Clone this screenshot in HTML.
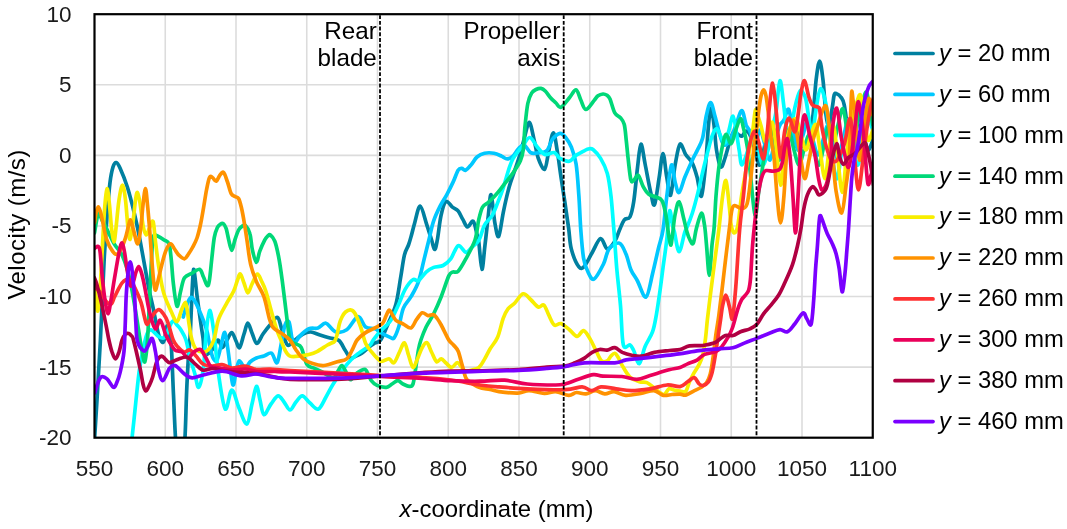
<!DOCTYPE html>
<html lang="en"><head><meta charset="utf-8"><title>Velocity vs x-coordinate</title>
<style>
html,body{margin:0;padding:0;background:#fff;}
body{width:1067px;height:529px;overflow:hidden;}
svg{display:block;}
text{font-family:"Liberation Sans",sans-serif;fill:#000;}
.tk{font-size:22.5px;fill:#1a1a1a;}
.ti{font-size:23.9px;}
.lg{font-size:23.75px;}
.an{font-size:24.2px;}
.c{fill:none;stroke-width:3.7;stroke-linecap:round;stroke-linejoin:round;}
</style></head><body>
<svg width="1067" height="529" viewBox="0 0 1067 529">
<rect x="0" y="0" width="1067" height="529" fill="#fff"/>
<defs><clipPath id="pa"><rect x="94.50" y="14.20" width="778.25" height="423.50"/></clipPath></defs>
<path d="M165.25 14.20V437.70M236.00 14.20V437.70M306.75 14.20V437.70M377.50 14.20V437.70M448.25 14.20V437.70M519.00 14.20V437.70M589.75 14.20V437.70M660.50 14.20V437.70M731.25 14.20V437.70M802.00 14.20V437.70M94.50 84.78H872.75M94.50 155.37H872.75M94.50 225.95H872.75M94.50 296.53H872.75M94.50 367.12H872.75" stroke="#dcdcdc" stroke-width="1.6" fill="none"/>
<g clip-path="url(#pa)">
<path class="c" stroke="#0080a0" d="M94.5 440.0C94.9 433.3 96.0 416.7 97.0 400.0C98.0 383.3 99.2 363.5 100.4 340.0C101.6 316.5 103.0 280.6 104.2 258.9C105.4 237.2 106.5 222.7 107.5 210.0C108.5 197.3 109.1 189.7 110.0 182.5C110.9 175.3 112.0 170.3 113.0 167.0C114.0 163.7 115.0 162.3 116.2 162.5C117.4 162.7 118.1 163.8 120.0 168.0C121.9 172.2 125.2 180.2 127.5 187.5C129.8 194.8 131.9 203.2 134.0 212.0C136.1 220.8 137.6 227.4 140.0 240.0C142.4 252.6 146.5 276.5 148.6 287.3C150.7 298.1 151.2 298.9 152.5 305.0C153.8 311.1 155.2 318.6 156.2 323.6C157.2 328.6 157.7 331.8 158.7 334.9C159.7 338.0 161.4 341.8 162.4 342.3C163.4 342.8 164.1 340.7 164.8 338.0C165.5 335.3 166.0 326.3 166.8 326.0C167.6 325.7 168.8 332.7 169.5 336.0C170.2 339.3 170.6 336.2 171.3 346.0C172.0 355.8 172.7 378.5 173.5 395.0C174.3 411.5 174.9 432.5 176.0 445.0C177.1 457.5 178.6 470.0 180.0 470.0C181.4 470.0 183.4 457.5 184.5 445.0C185.6 432.5 185.9 409.4 186.5 395.0C187.1 380.6 187.7 368.9 188.3 358.9C188.9 348.9 189.7 343.1 190.2 335.0C190.7 326.9 190.9 318.3 191.3 310.0C191.7 301.7 192.0 291.8 192.4 285.0C192.8 278.2 193.1 270.1 193.6 269.3C194.1 268.5 194.7 275.1 195.3 280.0C195.9 284.9 196.5 291.9 197.4 298.7C198.3 305.5 199.6 314.4 200.5 321.0C201.4 327.6 202.2 332.5 203.0 338.0C203.8 343.5 203.5 352.0 205.0 354.0C206.5 356.0 209.8 352.3 212.0 350.0C214.2 347.7 216.3 340.4 218.0 340.0C219.7 339.6 220.8 347.6 222.3 347.6C223.8 347.6 225.4 342.5 227.0 340.0C228.6 337.5 230.3 332.4 231.8 332.6C233.3 332.8 234.7 338.5 236.0 341.0C237.3 343.5 238.3 348.8 239.6 347.6C240.9 346.4 242.6 338.1 244.0 334.0C245.4 329.9 246.5 323.4 247.8 323.2C249.1 323.0 250.5 329.6 252.0 333.0C253.5 336.4 255.0 343.3 256.8 343.5C258.6 343.7 260.8 337.1 263.0 334.0C265.2 330.9 267.6 327.8 270.0 325.0C272.4 322.2 275.5 316.7 277.5 317.5C279.5 318.3 280.3 325.4 282.0 330.0C283.7 334.6 285.3 343.3 287.5 345.0C289.7 346.7 292.4 341.8 295.0 340.0C297.6 338.2 300.4 335.3 303.0 334.0C305.6 332.7 308.0 331.8 310.8 332.0C313.6 332.2 316.8 334.0 320.0 335.0C323.2 336.0 326.8 337.1 330.0 338.0C333.2 338.9 336.5 338.5 339.0 340.5C341.5 342.5 343.1 347.1 345.0 350.0C346.9 352.9 348.7 357.0 350.5 358.0C352.3 359.0 354.1 356.8 356.0 356.0C357.9 355.2 359.6 354.7 361.8 353.2C364.0 351.7 366.8 348.7 369.0 347.0C371.2 345.3 373.1 344.2 375.0 343.0C376.9 341.8 378.5 343.3 380.7 340.0C382.9 336.7 385.8 329.1 388.3 323.2C390.8 317.2 393.8 311.9 395.9 304.3C397.9 296.7 399.2 286.0 400.6 277.8C402.0 269.6 403.1 260.6 404.4 255.1C405.7 249.6 407.3 248.3 408.5 245.0C409.7 241.7 410.5 238.6 411.5 235.0C412.5 231.4 413.2 228.0 414.6 223.2C416.1 218.4 418.1 205.9 420.2 206.2C422.2 206.5 425.0 219.5 426.9 225.1C428.8 230.7 430.3 235.9 431.6 240.0C432.9 244.1 433.7 249.5 434.6 249.5C435.6 249.5 436.2 245.7 437.3 240.0C438.4 234.3 439.6 222.0 441.0 215.6C442.4 209.2 443.9 202.8 445.8 201.4C447.7 200.0 450.3 205.5 452.4 207.1C454.4 208.7 456.4 208.8 458.1 210.9C459.8 213.0 461.2 216.7 462.8 219.4C464.4 222.1 465.8 226.7 467.5 227.0C469.2 227.3 471.6 220.1 473.2 221.3C474.8 222.6 476.1 231.1 477.0 234.5C477.9 237.9 478.0 236.2 478.8 242.0C479.6 247.8 480.9 268.8 481.9 269.3C482.9 269.8 483.9 253.9 485.0 245.0C486.1 236.1 487.3 224.0 488.3 215.6C489.3 207.2 490.0 193.5 491.1 194.8C492.2 196.1 493.6 216.3 494.9 223.2C496.2 230.1 497.3 238.3 498.7 236.4C500.1 234.5 501.7 220.0 503.4 211.8C505.1 203.6 507.2 194.2 509.1 187.3C511.0 180.4 512.9 175.9 514.8 170.2C516.7 164.5 518.9 158.3 520.4 153.2C521.9 148.1 522.5 144.5 524.0 139.4C525.5 134.3 527.6 122.1 529.3 122.4C531.0 122.7 532.9 135.4 534.4 141.3C535.9 147.2 536.5 153.3 538.2 158.0C539.9 162.7 542.9 170.3 544.6 169.3C546.3 168.3 547.2 158.1 548.6 152.0C550.0 145.9 551.8 132.9 553.3 132.8C554.8 132.7 556.0 143.8 557.3 151.3C558.6 158.8 559.8 169.3 561.1 177.8C562.4 186.3 563.6 194.0 564.9 202.4C566.1 210.8 567.5 220.2 568.6 228.0C569.7 235.8 569.6 242.4 571.3 248.9C573.0 255.4 576.7 264.1 578.9 266.9C581.1 269.7 582.4 268.3 584.6 265.9C586.8 263.5 589.4 257.3 592.1 252.7C594.8 248.1 598.1 239.1 600.6 238.5C603.1 237.9 604.9 248.4 607.3 248.9C609.7 249.4 612.8 244.5 614.8 241.3C616.8 238.2 617.9 233.6 619.5 230.0C621.1 226.4 622.6 222.0 624.3 219.8C626.0 217.6 628.3 220.0 629.9 217.0C631.5 214.0 632.4 210.0 633.7 201.8C635.0 193.6 636.3 177.4 637.5 167.8C638.7 158.2 639.6 144.8 640.9 144.2C642.2 143.6 643.5 156.0 645.1 164.0C646.7 172.0 649.1 185.6 650.7 192.4C652.3 199.2 653.1 207.2 654.5 204.7C655.9 202.2 657.8 185.8 659.2 177.3C660.6 168.8 661.7 153.6 663.0 153.6C664.3 153.6 665.5 170.4 666.8 177.3C668.1 184.2 669.2 197.4 670.6 195.2C672.0 193.0 673.7 172.5 675.3 164.0C676.9 155.5 678.3 145.8 680.0 144.2C681.7 142.6 683.7 151.4 685.7 154.6C687.8 157.8 690.4 159.3 692.3 163.1C694.2 166.9 695.6 171.8 697.1 177.3C698.6 182.8 700.0 198.2 701.4 196.2C702.8 194.1 704.4 176.9 705.6 165.0C706.8 153.1 707.6 134.5 708.5 125.0C709.4 115.5 710.3 108.1 711.2 108.1C712.1 108.1 713.1 118.0 714.0 125.0C714.9 132.0 715.4 143.0 716.5 150.0C717.6 157.0 719.3 165.6 720.7 166.9C722.1 168.2 723.5 162.3 725.0 158.0C726.5 153.7 728.4 145.4 729.9 141.1C731.4 136.8 732.2 133.4 733.7 132.4C735.2 131.4 737.3 134.3 738.7 134.9C740.1 135.5 740.8 136.6 742.0 136.0C743.2 135.4 744.8 131.4 746.1 131.2C747.4 131.0 748.5 131.9 750.0 135.0C751.5 138.1 753.3 145.0 755.0 150.0C756.7 155.0 758.2 166.7 760.0 165.0C761.8 163.3 764.0 146.7 766.0 140.0C768.0 133.3 770.0 123.3 772.0 125.0C774.0 126.7 776.0 144.2 778.0 150.0C780.0 155.8 782.0 162.5 784.0 160.0C786.0 157.5 788.0 141.7 790.0 135.0C792.0 128.3 794.2 119.2 796.0 120.0C797.8 120.8 799.5 135.5 801.0 140.0C802.5 144.5 803.7 147.8 805.0 147.0C806.3 146.2 807.7 140.3 809.0 135.0C810.3 129.7 811.8 124.1 813.0 114.9C814.2 105.7 815.0 89.0 816.1 80.0C817.2 71.0 818.5 61.2 819.6 61.2C820.8 61.2 821.9 71.0 823.0 80.0C824.1 89.0 825.0 107.5 826.0 115.0C827.0 122.5 828.0 126.3 829.0 125.0C830.0 123.7 831.4 112.4 832.3 107.4C833.2 102.4 833.5 97.2 834.2 94.9C834.9 92.6 835.6 93.3 836.7 93.7C837.9 94.1 839.9 95.5 841.1 97.4C842.4 99.3 843.1 99.5 844.2 104.9C845.4 110.3 846.7 122.5 848.0 130.0C849.3 137.5 850.7 150.0 852.0 150.0C853.3 150.0 854.7 135.8 856.0 130.0C857.3 124.2 858.7 114.2 860.0 115.0C861.3 115.8 862.7 129.2 864.0 135.0C865.3 140.8 866.5 149.2 868.0 150.0C869.5 150.8 872.0 141.7 872.8 140.0"/>
<path class="c" stroke="#00c8ff" d="M183.3 317.0C183.5 316.3 183.7 315.0 184.3 313.0C184.9 311.0 185.9 307.3 186.8 305.0C187.7 302.7 188.7 300.2 189.5 299.0C190.3 297.8 190.8 297.1 191.7 297.5C192.6 297.9 193.8 299.6 195.0 301.5C196.2 303.4 197.2 305.4 198.6 308.7C200.0 311.9 202.1 317.1 203.6 321.0C205.1 324.9 206.3 328.2 207.3 332.4C208.3 336.6 208.9 341.7 209.8 346.0C210.8 350.3 211.8 355.7 213.0 358.0C214.2 360.3 215.7 362.0 217.0 360.0C218.3 358.0 219.7 350.6 221.0 346.0C222.3 341.4 223.6 331.7 224.8 332.4C226.0 333.1 226.7 341.3 228.0 350.0C229.3 358.7 231.4 380.7 232.7 384.4C234.0 388.1 234.9 375.9 236.0 372.0C237.1 368.1 237.8 361.4 239.3 360.8C240.8 360.2 243.2 368.2 245.0 368.4C246.8 368.6 248.1 363.7 250.0 362.0C251.9 360.3 254.1 359.0 256.4 358.0C258.7 357.0 261.5 356.8 264.0 356.0C266.5 355.2 269.3 352.1 271.5 353.2C273.7 354.3 275.5 364.1 277.1 362.7C278.7 361.3 279.7 351.3 281.0 345.0C282.3 338.7 283.7 328.8 285.0 325.0C286.3 321.2 287.8 319.8 289.0 322.0C290.2 324.2 291.0 334.5 292.0 338.0C293.0 341.5 293.8 343.3 295.0 343.0C296.2 342.7 297.2 338.8 299.5 336.4C301.8 334.0 305.8 330.2 308.9 328.8C312.0 327.4 315.2 328.9 318.0 328.0C320.8 327.1 323.0 322.6 325.9 323.2C328.8 323.8 331.9 330.6 335.4 331.7C338.9 332.8 342.9 332.3 346.7 329.8C350.5 327.3 354.9 317.1 358.0 316.6C361.1 316.1 362.8 325.0 365.6 327.0C368.4 329.0 372.5 327.9 375.0 328.8C377.5 329.7 378.2 331.2 380.7 332.6C383.2 334.0 388.0 336.5 390.2 337.4C392.4 338.3 392.6 339.7 394.0 338.0C395.4 336.3 397.1 332.0 398.7 327.0C400.3 322.0 401.3 313.2 403.4 308.1C405.4 303.1 408.5 301.1 411.0 296.7C413.5 292.3 416.3 287.9 418.5 281.6C420.7 275.3 422.5 265.8 424.2 258.9C425.9 252.0 427.3 246.3 428.9 240.0C430.4 233.7 431.6 226.9 433.5 221.3C435.4 215.7 437.9 210.6 440.1 206.2C442.3 201.8 444.5 198.9 446.7 194.8C448.9 190.7 451.4 185.7 453.3 181.6C455.2 177.5 456.7 172.4 458.1 170.2C459.5 168.0 460.6 168.4 461.8 168.4C463.1 168.4 464.0 170.8 465.6 170.2C467.2 169.6 469.4 166.8 471.3 164.6C473.2 162.4 474.8 158.9 477.0 157.0C479.2 155.1 481.7 153.8 484.5 153.2C487.3 152.6 491.2 152.7 494.0 153.2C496.8 153.7 499.3 155.1 501.5 156.1C503.7 157.1 505.3 158.9 507.2 158.9C509.1 158.9 511.0 157.8 512.9 156.1C514.8 154.4 516.5 150.6 518.4 148.8C520.2 147.0 522.0 144.5 524.0 145.1C526.0 145.7 528.4 151.3 530.6 152.6C532.8 153.9 534.3 153.3 537.0 153.0C539.7 152.7 544.1 153.0 546.7 150.7C549.3 148.4 550.2 142.3 552.4 139.4C554.6 136.5 557.8 133.6 560.0 133.3C562.2 133.0 563.7 135.2 565.6 137.5C567.5 139.8 569.5 142.6 571.3 147.0C573.0 151.4 574.8 155.8 576.1 164.0C577.4 172.2 578.1 185.2 578.9 196.2C579.7 207.2 580.0 219.6 580.8 230.0C581.6 240.4 582.4 251.4 583.6 258.4C584.8 265.4 586.3 268.6 588.0 272.0C589.7 275.4 591.4 280.4 594.0 279.1C596.6 277.8 601.0 269.0 603.5 264.0C606.0 259.0 606.4 252.4 609.1 248.9C611.8 245.4 616.6 242.2 619.5 243.2C622.4 244.1 624.3 250.2 626.2 254.6C628.1 259.0 629.0 265.3 630.9 269.7C632.8 274.1 635.0 276.4 637.5 281.0C640.0 285.6 643.5 298.4 646.0 297.1C648.5 295.9 650.6 281.5 652.6 273.5C654.6 265.5 656.6 256.1 658.3 248.9C660.0 241.7 661.6 238.8 663.0 230.0C664.4 221.2 665.4 207.0 666.8 196.2C668.2 185.4 670.1 167.2 671.5 165.0C672.9 162.8 674.0 178.3 675.3 182.9C676.6 187.5 677.5 193.3 679.1 192.4C680.7 191.5 682.6 182.7 684.8 177.3C687.0 171.9 690.2 164.8 692.3 160.2C694.4 155.6 695.8 153.5 697.5 149.9C699.2 146.3 701.0 144.2 702.5 138.6C704.0 133.0 704.9 122.2 706.2 116.2C707.6 110.2 709.1 102.5 710.6 102.5C712.1 102.5 713.5 110.8 715.0 116.2C716.5 121.6 718.4 130.1 719.9 134.9C721.4 139.7 722.3 144.2 724.0 145.0C725.7 145.8 728.0 143.3 730.0 140.0C732.0 136.7 734.0 129.9 736.0 125.0C738.0 120.1 740.1 110.6 741.8 110.6C743.5 110.6 744.8 121.5 746.1 124.9C747.5 128.3 748.4 127.8 749.9 131.2C751.4 134.5 753.3 145.2 755.0 145.0C756.7 144.8 758.3 130.0 760.0 130.0C761.7 130.0 763.3 140.0 765.0 145.0C766.7 150.0 768.3 160.8 770.0 160.0C771.7 159.2 773.3 145.8 775.0 140.0C776.7 134.2 778.5 128.3 780.0 125.0C781.5 121.7 782.6 122.6 784.0 120.0C785.4 117.4 787.1 107.6 788.6 109.3C790.1 111.0 791.4 123.2 793.0 130.0C794.6 136.8 796.3 149.2 798.0 150.0C799.7 150.8 801.3 140.0 803.0 135.0C804.7 130.0 806.3 119.2 808.0 120.0C809.7 120.8 811.3 134.2 813.0 140.0C814.7 145.8 816.3 155.0 818.0 155.0C819.7 155.0 821.3 145.0 823.0 140.0C824.7 135.0 826.3 125.0 828.0 125.0C829.7 125.0 831.3 134.2 833.0 140.0C834.7 145.8 836.3 160.0 838.0 160.0C839.7 160.0 841.3 146.7 843.0 140.0C844.7 133.3 846.3 120.8 848.0 120.0C849.7 119.2 851.3 130.0 853.0 135.0C854.7 140.0 856.3 150.8 858.0 150.0C859.7 149.2 861.3 135.8 863.0 130.0C864.7 124.2 866.4 115.8 868.0 115.0C869.6 114.2 872.0 123.3 872.8 125.0"/>
<path class="c" stroke="#00ffff" d="M131.6 442.0C132.2 436.7 133.8 421.7 135.0 410.0C136.2 398.3 137.8 382.0 139.1 372.0C140.4 362.0 141.7 356.3 143.0 350.0C144.3 343.7 145.6 337.4 147.0 334.0C148.4 330.6 149.2 329.4 151.2 329.9C153.1 330.3 156.4 335.4 158.7 336.7C161.0 337.9 163.3 338.8 165.0 337.4C166.7 335.9 167.7 330.7 169.0 328.0C170.3 325.3 171.7 321.5 173.0 321.0C174.3 320.5 175.7 323.5 177.0 325.0C178.3 326.5 179.5 327.5 181.0 330.0C182.5 332.5 184.5 335.3 186.0 340.0C187.5 344.7 188.5 352.3 190.0 358.0C191.5 363.7 193.5 369.1 194.9 374.0C196.3 378.9 197.3 388.3 198.7 387.3C200.1 386.3 202.2 376.7 203.4 368.0C204.6 359.3 205.0 344.6 206.0 335.0C207.0 325.4 208.3 311.3 209.6 310.5C210.9 309.7 212.6 324.1 213.6 330.0C214.6 335.9 214.6 338.7 215.4 346.0C216.2 353.3 216.9 363.5 218.5 374.0C220.1 384.5 223.0 406.3 225.2 409.0C227.4 411.7 229.5 390.2 231.8 390.0C234.1 389.8 236.5 402.3 239.0 408.0C241.5 413.7 244.7 424.7 246.9 424.0C249.1 423.3 250.4 410.3 252.0 404.0C253.6 397.7 255.1 387.0 256.4 386.3C257.7 385.6 258.8 395.3 260.0 400.0C261.2 404.7 262.1 414.0 263.9 414.7C265.7 415.4 268.6 407.1 271.0 404.0C273.4 400.9 275.9 396.1 278.1 395.8C280.3 395.5 282.0 399.6 284.0 402.0C286.0 404.4 288.0 410.0 290.0 410.0C292.0 410.0 293.9 404.4 296.0 402.0C298.1 399.6 300.0 395.6 302.3 395.8C304.6 396.0 307.3 400.8 310.0 403.0C312.7 405.2 315.7 410.0 318.4 409.0C321.1 408.0 323.5 401.2 326.0 397.0C328.5 392.8 330.1 388.9 333.5 383.5C336.9 378.1 342.9 369.3 346.7 364.6C350.5 359.9 352.4 358.2 356.2 355.1C360.0 352.0 366.6 348.2 369.4 345.7C372.2 343.2 371.3 342.5 373.2 340.0C375.1 337.5 377.9 333.8 380.7 330.7C383.5 327.6 387.3 325.4 390.2 321.3C393.1 317.2 395.3 311.6 397.8 306.2C400.3 300.8 402.8 293.5 405.3 289.1C407.8 284.7 410.7 281.1 412.9 279.7C415.1 278.3 416.3 281.9 418.5 280.6C420.7 279.3 423.6 274.3 426.1 272.1C428.6 269.9 430.9 268.5 433.7 267.4C436.5 266.3 440.3 266.9 443.1 265.5C445.9 264.1 448.2 262.2 450.7 258.9C453.2 255.6 455.7 246.8 458.2 245.7C460.7 244.6 463.6 252.0 465.8 252.3C468.0 252.6 469.3 249.7 471.5 247.6C473.7 245.5 476.8 243.8 479.0 240.0C481.2 236.2 482.3 229.2 484.5 225.1C486.7 221.0 489.9 219.4 492.1 215.6C494.3 211.8 495.9 207.1 497.8 202.4C499.7 197.7 501.5 193.0 503.4 187.3C505.3 181.6 507.5 173.1 509.1 168.4C510.7 163.7 511.3 161.8 512.9 158.9C514.5 156.0 517.0 153.0 518.5 151.0C520.0 149.0 520.2 149.2 522.1 147.0C524.0 144.8 527.2 137.5 529.7 137.5C532.2 137.5 534.8 144.2 537.3 147.0C539.8 149.8 542.0 153.6 544.8 154.5C547.6 155.4 551.8 151.9 554.3 152.6C556.8 153.2 557.5 157.0 560.0 158.4C562.5 159.8 567.0 161.6 569.5 161.2C572.0 160.8 573.1 157.4 575.0 156.0C576.9 154.6 578.6 153.9 580.8 152.7C583.0 151.5 586.3 149.5 588.3 149.0C590.3 148.5 591.0 147.9 593.0 149.5C595.0 151.1 598.2 154.4 600.6 158.4C603.0 162.4 605.6 167.2 607.3 173.5C609.0 179.8 609.9 186.8 611.0 196.2C612.1 205.6 612.9 218.1 613.9 230.0C614.9 241.9 615.6 255.2 616.7 267.8C617.8 280.4 619.4 292.8 620.5 305.6C621.6 318.4 621.7 338.3 623.3 344.8C624.9 351.3 628.2 343.9 629.9 344.8C631.6 345.8 632.1 347.4 633.7 350.5C635.3 353.6 637.4 364.3 639.3 363.7C641.2 363.1 642.8 352.0 645.0 346.7C647.2 341.4 650.7 337.0 652.6 331.6C654.5 326.2 655.1 321.5 656.4 314.6C657.6 307.7 659.0 297.8 660.1 290.0C661.2 282.2 661.9 276.2 663.0 267.8C664.1 259.4 665.7 249.0 666.8 239.5C667.9 230.0 668.6 213.4 669.6 211.0C670.6 208.6 671.7 221.5 672.5 225.0C673.3 228.5 673.3 227.6 674.4 232.0C675.5 236.4 677.4 251.7 679.1 251.7C680.8 251.7 683.5 235.9 684.8 232.0C686.1 228.1 685.5 231.1 686.7 228.0C688.0 224.9 690.4 219.1 692.3 213.2C694.2 207.3 696.1 200.0 698.0 192.4C699.9 184.8 701.9 175.2 703.7 167.8C705.5 160.4 707.2 153.5 708.7 148.0C710.2 142.5 711.1 138.1 712.5 134.9C713.9 131.7 715.3 128.3 716.8 128.7C718.2 129.1 719.8 135.0 721.2 137.4C722.6 139.8 723.7 144.2 725.0 143.0C726.3 141.8 727.7 134.5 729.0 130.0C730.3 125.5 731.7 115.4 733.0 116.2C734.3 117.0 735.8 129.1 736.8 134.9C737.8 140.7 738.4 146.0 739.3 151.0C740.2 156.0 740.5 165.2 742.0 165.0C743.5 164.8 746.2 155.0 748.0 150.0C749.8 145.0 751.3 135.0 753.0 135.0C754.7 135.0 756.3 145.0 758.0 150.0C759.7 155.0 761.3 165.0 763.0 165.0C764.7 165.0 766.5 155.8 768.0 150.0C769.5 144.2 770.6 136.5 772.0 130.0C773.4 123.5 774.9 119.3 776.2 111.1C777.5 102.9 778.6 81.6 779.9 80.6C781.1 79.6 782.7 97.5 783.7 104.9C784.7 112.3 785.1 119.2 786.0 125.0C786.9 130.8 788.0 140.0 789.0 140.0C790.0 140.0 791.0 130.4 792.0 125.0C793.0 119.6 793.6 113.0 794.9 107.4C796.2 101.8 798.5 93.6 799.9 91.2C801.2 88.8 802.0 91.5 803.0 93.0C804.0 94.5 804.8 94.7 806.0 100.0C807.2 105.3 808.8 120.0 810.0 125.0C811.2 130.0 812.0 132.5 813.0 130.0C814.0 127.5 814.8 116.9 816.0 110.0C817.2 103.1 818.8 89.5 820.5 88.7C822.2 87.9 824.5 96.4 826.1 104.9C827.7 113.5 828.2 127.7 830.0 140.0C831.8 152.3 834.7 177.0 836.7 178.7C838.7 180.4 840.1 158.1 842.0 150.0C843.9 141.9 846.2 130.0 848.0 130.0C849.8 130.0 851.3 144.2 853.0 150.0C854.7 155.8 856.3 166.7 858.0 165.0C859.7 163.3 861.3 147.5 863.0 140.0C864.7 132.5 866.4 121.7 868.0 120.0C869.6 118.3 872.0 128.3 872.8 130.0"/>
<path class="c" stroke="#00d878" d="M94.5 233.0C95.1 229.8 97.0 215.8 98.3 213.6C99.5 211.4 100.6 217.5 102.0 220.0C103.4 222.5 104.6 224.7 106.6 228.7C108.6 232.7 111.5 239.3 114.2 243.9C116.9 248.5 119.9 250.0 122.5 256.0C125.1 262.0 127.6 269.3 130.0 280.0C132.4 290.7 135.2 309.2 137.0 320.0C138.8 330.8 139.7 338.0 141.0 345.0C142.3 352.0 143.7 362.8 144.8 362.0C145.9 361.2 146.6 352.0 147.5 340.0C148.4 328.0 149.2 305.0 150.0 290.0C150.8 275.0 151.4 259.0 152.0 250.0C152.6 241.0 152.5 238.3 153.5 236.0C154.5 233.7 156.2 235.6 158.0 236.3C159.8 237.0 162.3 238.7 164.1 240.0C165.9 241.3 167.8 240.7 169.0 244.0C170.2 247.3 170.6 253.5 171.3 260.0C172.0 266.5 172.4 275.3 173.3 283.0C174.2 290.7 175.8 304.9 177.0 306.2C178.2 307.5 179.4 295.7 180.7 291.0C181.9 286.3 182.6 280.8 184.5 277.8C186.4 274.8 189.6 274.5 192.1 273.1C194.6 271.7 197.7 268.7 199.6 269.3C201.5 269.9 202.2 274.3 203.5 277.0C204.8 279.7 206.2 284.7 207.2 285.4C208.2 286.1 208.5 285.5 209.3 281.0C210.1 276.5 211.0 265.9 211.8 258.6C212.6 251.3 213.4 242.6 214.3 237.4C215.2 232.2 216.4 229.7 217.4 227.5C218.4 225.3 219.4 225.0 220.3 224.3C221.2 223.6 222.1 222.8 223.1 223.5C224.1 224.2 225.3 226.0 226.2 228.7C227.1 231.4 227.8 236.3 228.7 239.9C229.6 243.5 230.8 250.5 231.8 250.5C232.8 250.5 233.8 243.3 234.9 239.9C236.0 236.5 237.4 232.3 238.6 230.0C239.8 227.7 240.8 227.0 242.0 226.3C243.2 225.6 244.2 224.4 245.5 225.6C246.8 226.8 248.8 229.6 249.9 233.7C251.1 237.8 251.3 245.1 252.4 249.9C253.5 254.7 255.1 262.2 256.3 262.4C257.5 262.6 258.4 254.9 259.8 251.2C261.2 247.4 263.5 242.4 264.8 239.9C266.1 237.4 266.9 236.8 267.8 236.0C268.7 235.2 269.2 234.0 270.4 234.9C271.6 235.8 273.4 237.7 274.8 241.2C276.2 244.7 277.2 249.5 278.5 256.1C279.8 262.7 280.8 269.8 282.3 281.0C283.8 292.2 286.2 313.4 287.5 323.2C288.8 333.0 288.6 336.5 290.0 340.0C291.4 343.5 294.1 342.7 296.0 344.0C297.9 345.3 299.5 344.2 301.3 347.6C303.1 351.0 304.8 361.1 307.0 364.6C309.2 368.1 311.8 367.0 314.6 368.4C317.4 369.8 320.9 371.4 324.0 373.0C327.1 374.6 331.2 378.1 333.5 377.8C335.8 377.5 336.6 373.1 338.0 371.0C339.4 368.9 340.6 365.2 342.0 365.5C343.4 365.8 345.1 370.6 346.5 373.0C347.9 375.4 348.8 379.7 350.5 379.7C352.2 379.7 354.6 374.7 357.0 373.0C359.4 371.3 362.9 369.1 364.7 369.3C366.5 369.5 366.9 372.1 368.0 374.0C369.1 375.9 369.8 378.7 371.3 380.6C372.8 382.5 374.5 384.3 377.0 385.4C379.5 386.5 383.9 387.5 386.4 387.3C388.9 387.1 390.1 385.1 392.0 384.0C393.9 382.9 396.0 380.6 397.8 380.6C399.6 380.6 401.1 383.1 403.0 384.0C404.9 384.9 407.4 386.3 409.1 386.3C410.8 386.3 411.9 387.0 413.0 384.0C414.1 381.0 414.8 374.1 415.7 368.4C416.6 362.6 417.6 354.2 418.5 349.5C419.4 344.8 419.6 343.8 420.9 340.0C422.2 336.2 424.0 331.4 426.1 327.0C428.2 322.6 431.2 318.8 433.7 313.7C436.2 308.6 438.7 303.0 441.2 296.7C443.7 290.4 446.9 280.0 448.8 275.9C450.7 271.8 451.0 272.9 452.6 272.1C454.2 271.3 456.0 273.4 458.2 271.2C460.4 269.0 463.0 264.1 465.8 258.9C468.6 253.7 472.8 246.6 475.0 240.0C477.2 233.4 477.5 224.9 478.8 219.4C480.1 213.9 481.0 209.9 482.6 207.1C484.2 204.3 486.1 204.4 488.3 202.4C490.5 200.4 493.4 197.6 495.9 194.8C498.4 192.0 500.6 189.0 503.4 185.4C506.2 181.8 510.1 177.2 512.9 173.1C515.7 169.0 518.7 164.7 520.4 160.8C522.1 156.9 522.5 155.3 523.3 149.5C524.1 143.7 524.2 133.9 525.0 126.2C525.8 118.5 526.7 109.0 527.8 103.5C528.9 98.0 530.2 95.4 531.6 93.1C533.0 90.8 534.4 90.3 536.0 89.5C537.6 88.7 539.4 88.1 541.0 88.4C542.6 88.7 543.9 89.7 545.5 91.3C547.1 92.9 548.8 95.8 550.5 97.8C552.2 99.8 554.3 101.4 556.0 103.0C557.7 104.6 558.7 108.2 560.9 107.3C563.1 106.4 566.9 100.7 569.4 97.8C571.9 94.9 574.1 89.6 576.0 89.9C577.9 90.2 579.1 96.4 580.7 99.7C582.3 103.0 583.6 109.3 585.8 109.5C588.0 109.7 592.0 102.9 594.0 100.6C596.0 98.3 596.5 96.9 598.0 95.8C599.5 94.7 601.5 94.1 603.0 94.0C604.5 93.9 605.8 94.5 607.0 95.3C608.2 96.1 608.7 96.1 610.0 99.0C611.3 101.9 613.1 109.8 614.8 112.9C616.5 116.0 618.8 115.8 620.4 117.7C622.0 119.6 623.2 120.6 624.2 124.3C625.2 128.0 625.6 134.3 626.2 140.0C626.9 145.7 627.3 151.7 628.1 158.4C628.9 165.1 629.9 176.5 630.9 180.1C631.9 183.7 632.8 180.8 634.0 180.0C635.2 179.2 636.9 174.3 638.4 175.4C639.9 176.5 641.5 183.5 643.2 186.7C644.9 189.8 646.6 192.6 648.8 194.3C651.0 196.0 654.2 196.0 656.4 197.1C658.6 198.2 660.5 197.9 662.1 200.9C663.7 203.9 664.9 209.9 665.9 215.1C666.9 220.3 667.4 227.0 668.2 232.0C669.0 237.0 669.9 244.6 670.6 245.1C671.3 245.6 671.8 240.0 672.5 235.0C673.2 230.0 673.9 220.5 675.0 215.0C676.1 209.5 677.6 201.2 679.1 201.8C680.6 202.4 682.5 213.8 683.8 218.8C685.1 223.8 686.0 228.5 687.0 232.0C688.0 235.5 689.0 238.1 690.0 240.0C691.0 241.9 692.2 245.2 693.3 243.2C694.4 241.2 695.1 233.0 696.5 228.0C697.9 223.0 700.1 213.7 701.4 213.2C702.7 212.7 703.6 219.7 704.5 225.0C705.4 230.3 705.7 236.6 706.5 245.0C707.3 253.4 708.4 275.4 709.3 275.4C710.2 275.4 711.2 252.9 712.0 245.0C712.8 237.1 713.4 236.1 714.1 228.0C714.8 219.9 715.2 206.2 716.0 196.2C716.8 186.2 717.7 176.3 718.8 167.8C719.9 159.3 721.4 150.7 722.6 145.1C723.8 139.5 724.8 134.6 726.2 134.3C727.6 134.1 729.5 144.5 731.2 143.6C732.9 142.7 734.7 132.8 736.2 128.7C737.8 124.5 739.3 118.7 740.5 118.7C741.7 118.7 742.5 123.9 743.6 128.7C744.8 133.5 746.3 140.5 747.4 147.4C748.5 154.3 748.7 158.8 750.0 170.0C751.3 181.2 753.5 211.6 755.0 214.9C756.5 218.2 757.5 199.2 759.0 190.0C760.5 180.8 762.4 168.3 763.7 160.0C765.0 151.7 765.8 145.8 767.0 140.0C768.2 134.2 769.7 125.0 771.0 125.0C772.3 125.0 773.7 134.2 775.0 140.0C776.3 145.8 777.5 159.2 779.0 160.0C780.5 160.8 782.3 150.0 784.0 145.0C785.7 140.0 787.3 129.2 789.0 130.0C790.7 130.8 792.3 144.2 794.0 150.0C795.7 155.8 797.3 165.0 799.0 165.0C800.7 165.0 802.3 155.0 804.0 150.0C805.7 145.0 807.3 135.0 809.0 135.0C810.7 135.0 812.3 145.0 814.0 150.0C815.7 155.0 817.3 165.8 819.0 165.0C820.7 164.2 822.3 151.7 824.0 145.0C825.7 138.3 827.3 125.8 829.0 125.0C830.7 124.2 832.5 140.0 834.0 140.0C835.5 140.0 836.5 130.2 838.0 125.0C839.5 119.8 841.4 107.8 842.9 108.6C844.4 109.4 845.6 123.1 847.0 130.0C848.4 136.9 849.7 149.2 851.0 150.0C852.3 150.8 853.7 140.8 855.0 135.0C856.3 129.2 857.7 120.8 859.0 115.0C860.3 109.2 861.7 103.8 863.0 100.0C864.3 96.2 865.4 90.7 866.6 92.4C867.8 94.1 869.0 104.6 870.0 110.0C871.0 115.4 872.3 122.5 872.8 125.0"/>
<path class="c" stroke="#f8ee00" d="M94.5 285.0C94.8 287.5 95.5 295.7 96.0 300.0C96.5 304.3 97.1 312.7 97.8 311.0C98.5 309.3 99.2 301.0 100.0 290.0C100.8 279.0 101.8 258.3 102.5 245.0C103.2 231.7 103.8 219.4 104.5 210.0C105.2 200.6 106.2 189.5 107.0 188.7C107.8 187.9 108.8 198.4 109.5 205.0C110.2 211.6 110.8 221.8 111.5 228.0C112.2 234.2 113.2 242.0 113.9 242.0C114.7 242.0 115.2 235.0 116.0 228.0C116.8 221.0 117.9 207.2 119.0 200.0C120.1 192.8 121.4 185.0 122.5 185.0C123.6 185.0 124.6 192.8 125.5 200.0C126.4 207.2 127.2 221.4 128.0 228.0C128.8 234.6 129.3 240.3 130.1 239.3C130.9 238.3 132.1 228.6 133.0 222.0C133.9 215.4 134.8 204.9 135.5 200.0C136.2 195.1 136.8 192.0 137.5 192.5C138.2 193.0 139.1 197.6 140.0 203.0C140.9 208.4 142.0 219.7 143.0 225.0C144.0 230.3 144.9 234.3 146.0 234.8C147.1 235.3 148.3 230.2 149.5 228.0C150.7 225.8 152.1 219.2 153.1 221.5C154.1 223.8 154.5 234.2 155.5 242.0C156.5 249.8 157.6 259.9 159.0 268.4C160.4 276.9 161.6 285.8 163.7 293.0C165.8 300.2 169.1 307.0 171.3 311.8C173.5 316.6 175.3 322.0 177.0 321.7C178.7 321.4 180.1 313.2 181.5 310.0C182.9 306.8 184.5 302.1 185.5 302.4C186.5 302.7 186.9 308.2 187.5 312.0C188.1 315.8 188.4 320.3 189.2 325.0C189.9 329.7 190.9 336.0 192.0 340.0C193.1 344.0 194.3 347.0 196.0 349.0C197.7 351.0 200.0 351.8 202.0 352.0C204.0 352.2 206.0 352.0 208.0 350.0C210.0 348.0 212.1 345.1 213.8 340.0C215.6 334.9 216.4 325.3 218.5 319.4C220.6 313.4 223.6 309.0 226.1 304.3C228.6 299.6 231.8 295.1 233.7 291.0C235.6 286.9 236.4 282.8 237.5 280.0C238.6 277.2 239.2 273.5 240.3 274.0C241.4 274.5 242.8 279.9 244.0 283.0C245.2 286.1 246.5 292.7 247.8 292.9C249.1 293.1 250.4 287.1 252.0 284.0C253.6 280.9 255.7 274.5 257.3 274.0C258.9 273.5 260.1 278.2 261.5 281.0C262.9 283.8 264.1 285.9 265.8 291.0C267.5 296.1 269.6 305.2 271.5 311.8C273.4 318.4 275.5 326.0 277.1 330.7C278.7 335.4 279.7 336.8 281.0 340.0C282.3 343.2 283.5 347.3 285.0 350.0C286.5 352.7 287.5 355.1 290.0 356.1C292.5 357.1 296.9 356.3 300.0 356.0C303.1 355.7 306.1 355.2 308.9 354.5C311.7 353.8 313.9 353.2 317.0 351.6C320.1 350.0 325.1 346.4 327.5 345.0C329.9 343.6 330.3 343.6 331.5 343.0C332.7 342.4 333.6 342.8 334.5 341.5C335.4 340.2 336.2 337.9 337.0 335.0C337.8 332.1 338.6 326.8 339.4 323.8C340.2 320.8 341.0 319.0 342.0 317.0C343.0 315.0 344.1 313.2 345.5 312.0C346.9 310.8 349.0 309.6 350.6 309.9C352.2 310.1 353.4 310.7 355.0 313.5C356.6 316.3 358.7 321.5 360.5 326.5C362.3 331.5 363.8 339.3 365.8 343.7C367.8 348.1 370.5 350.5 372.4 352.9C374.3 355.3 375.4 356.6 377.0 358.0C378.6 359.4 379.7 361.4 381.7 361.5C383.7 361.6 386.9 358.7 389.0 358.9C391.1 359.1 392.2 363.8 394.0 362.7C395.8 361.6 397.8 355.3 399.5 352.0C401.2 348.7 402.9 342.3 404.4 342.8C405.9 343.3 407.1 350.9 408.5 355.0C409.9 359.1 411.5 366.6 412.9 367.4C414.3 368.2 415.5 363.2 417.0 360.0C418.5 356.8 420.3 350.9 422.0 348.0C423.7 345.1 425.4 342.1 427.0 342.8C428.6 343.5 429.9 348.9 431.5 352.0C433.1 355.1 434.9 360.6 436.5 361.7C438.1 362.8 439.6 358.7 441.2 358.9C442.8 359.1 444.3 361.6 446.0 363.0C447.7 364.4 449.7 367.4 451.6 367.4C453.5 367.3 455.7 362.8 457.3 362.7C458.9 362.6 460.1 365.6 461.5 367.0C462.9 368.4 464.1 370.7 465.8 371.2C467.6 371.7 469.8 370.6 472.0 370.0C474.2 369.4 476.9 369.2 479.0 367.4C481.1 365.5 482.9 362.0 484.7 358.9C486.5 355.8 487.9 352.6 490.0 349.0C492.1 345.4 495.4 342.4 497.6 337.3C499.8 332.2 501.5 323.1 503.2 318.4C504.9 313.7 506.1 311.4 508.0 308.9C509.9 306.4 512.1 305.7 514.6 303.2C517.1 300.7 520.4 294.4 523.1 293.8C525.8 293.2 528.1 297.3 530.6 299.5C533.1 301.7 536.0 306.1 538.2 307.0C540.4 307.9 542.2 303.8 543.9 305.1C545.6 306.4 546.9 311.3 548.6 314.6C550.3 317.9 552.2 323.5 554.3 325.0C556.3 326.5 558.4 322.8 560.9 323.6C563.4 324.4 566.7 327.6 569.4 329.7C572.1 331.8 574.6 336.1 577.0 336.3C579.4 336.5 581.4 330.1 583.6 330.6C585.8 331.1 588.2 335.8 590.2 339.1C592.2 342.4 594.0 346.9 595.9 350.5C597.8 354.1 599.6 359.2 601.5 360.9C603.4 362.6 605.6 361.7 607.2 360.9C608.8 360.1 609.7 357.3 611.0 356.0C612.3 354.7 613.5 353.0 614.8 353.3C616.0 353.6 617.2 355.9 618.5 358.0C619.8 360.1 620.4 362.4 622.3 365.6C624.2 368.8 627.1 374.3 629.9 377.0C632.7 379.7 636.5 380.8 639.3 381.7C642.1 382.6 644.5 381.6 646.9 382.6C649.3 383.6 651.9 386.2 653.9 387.8C655.9 389.4 657.3 390.9 659.0 392.0C660.7 393.1 662.6 394.9 664.3 394.4C666.0 393.9 667.4 389.5 669.0 388.8C670.6 388.1 672.2 389.6 674.0 390.0C675.8 390.4 678.0 390.8 680.0 391.0C682.0 391.2 684.1 392.8 685.7 391.3C687.3 389.8 688.2 384.6 689.5 381.8C690.8 379.0 691.6 377.1 693.2 374.3C694.8 371.5 697.3 368.0 698.9 364.8C700.5 361.6 701.6 359.8 702.7 355.4C703.8 351.0 704.7 344.4 705.5 338.4C706.3 332.4 706.5 327.6 707.4 319.5C708.3 311.4 709.7 300.1 711.0 290.0C712.3 279.9 713.7 269.0 715.0 259.0C716.3 249.0 717.5 240.5 718.8 230.0C720.1 219.5 721.4 204.4 722.6 196.2C723.8 188.0 724.9 179.1 726.0 180.7C727.1 182.3 728.4 198.3 729.2 205.6C730.1 212.9 730.3 219.9 731.1 224.5C731.9 229.1 732.9 232.8 734.0 233.0C735.1 233.2 736.5 232.1 737.7 226.0C739.0 219.9 740.1 205.5 741.5 196.2C742.9 186.9 744.7 177.7 746.0 170.0C747.3 162.3 748.4 156.7 749.5 150.0C750.6 143.3 751.8 136.7 752.8 130.0C753.8 123.3 754.6 112.3 755.5 110.0C756.4 107.7 757.1 113.3 758.0 116.0C758.9 118.7 760.0 122.0 761.1 126.2C762.2 130.4 763.8 139.6 764.9 141.1C766.0 142.6 766.8 138.1 768.0 135.0C769.2 131.9 771.0 120.7 772.3 122.4C773.6 124.1 774.6 134.6 776.0 145.0C777.4 155.4 779.1 184.2 780.6 185.0C782.1 185.8 783.4 159.5 785.0 150.0C786.6 140.5 788.1 133.2 790.0 128.0C791.9 122.8 794.3 117.5 796.1 118.7C797.9 119.9 799.4 129.8 801.0 135.0C802.6 140.2 804.3 150.0 806.0 150.0C807.7 150.0 809.3 139.2 811.0 135.0C812.7 130.8 814.5 122.5 816.0 125.0C817.5 127.5 818.5 141.1 820.0 150.0C821.5 158.9 823.4 178.7 824.9 178.7C826.4 178.7 827.6 158.9 829.0 150.0C830.4 141.1 831.7 125.0 833.0 125.0C834.3 125.0 835.5 138.8 837.0 150.0C838.5 161.2 840.6 192.4 842.3 192.4C844.0 192.4 845.4 162.1 847.0 150.0C848.6 137.9 850.5 127.5 852.0 120.0C853.5 112.5 854.6 109.2 856.0 105.0C857.4 100.8 859.1 93.2 860.4 94.9C861.7 96.6 862.7 107.5 864.0 115.0C865.3 122.5 866.5 137.5 868.0 140.0C869.5 142.5 872.0 131.7 872.8 130.0"/>
<path class="c" stroke="#ff9200" d="M94.5 222.7C94.8 221.1 95.4 215.7 96.0 213.0C96.6 210.3 97.5 207.0 98.3 206.8C99.0 206.6 99.7 209.3 100.5 212.0C101.3 214.7 101.9 218.1 102.9 222.7C103.9 227.2 105.0 234.5 106.6 239.3C108.2 244.1 110.9 248.9 112.7 251.4C114.5 253.9 115.7 254.8 117.2 254.2C118.7 253.6 120.1 250.7 121.5 248.0C122.9 245.3 124.4 241.1 125.5 237.8C126.6 234.5 127.2 231.0 128.0 228.0C128.8 225.0 129.6 219.7 130.5 220.0C131.4 220.3 132.3 226.0 133.5 230.0C134.7 234.0 136.4 243.9 137.6 243.9C138.8 243.9 139.6 236.5 140.5 230.0C141.4 223.5 142.2 211.9 143.0 205.0C143.8 198.1 144.7 188.7 145.4 188.7C146.2 188.7 146.8 198.1 147.5 205.0C148.2 211.9 148.9 220.7 149.7 230.2C150.4 239.7 151.4 253.7 152.0 262.0C152.6 270.3 153.0 275.3 153.5 280.0C154.0 284.7 154.5 289.6 155.2 290.1C155.9 290.6 156.6 286.6 157.5 283.0C158.4 279.4 159.6 273.7 160.9 268.4C162.2 263.1 164.0 255.4 165.6 251.3C167.2 247.2 169.0 244.2 170.5 243.8C172.0 243.4 173.1 247.1 174.5 249.0C175.9 250.9 177.1 253.5 178.8 255.1C180.5 256.7 182.9 259.0 184.5 258.8C186.1 258.6 187.2 255.9 188.5 254.0C189.8 252.1 191.1 250.2 192.5 247.5C193.9 244.8 195.7 241.8 197.0 238.0C198.3 234.2 199.3 230.0 200.4 225.0C201.5 220.0 202.5 213.8 203.5 208.0C204.5 202.2 205.5 195.1 206.5 190.0C207.5 184.9 208.5 179.6 209.5 177.5C210.5 175.4 211.4 176.9 212.5 177.5C213.6 178.1 214.9 181.6 216.2 181.2C217.4 180.8 218.8 176.4 220.0 175.0C221.2 173.6 222.4 171.3 223.7 172.5C224.9 173.7 226.2 178.5 227.5 182.0C228.8 185.5 229.9 191.3 231.2 193.7C232.4 196.1 233.8 195.7 235.0 196.5C236.2 197.3 237.6 196.8 238.7 198.7C239.8 200.6 240.5 203.8 241.5 208.0C242.5 212.2 243.5 218.0 244.5 224.0C245.5 230.0 246.5 237.2 247.5 244.0C248.5 250.8 249.2 258.3 250.7 264.6C252.2 270.9 254.2 276.2 256.4 281.6C258.6 287.0 261.7 290.4 263.9 296.7C266.1 303.0 268.0 314.2 269.6 319.4C271.2 324.6 271.5 325.6 273.4 327.9C275.3 330.2 278.2 331.0 281.0 333.0C283.8 335.0 287.6 337.2 290.0 340.0C292.4 342.8 293.5 346.4 295.7 349.5C297.9 352.6 300.4 356.5 303.2 358.9C306.0 361.2 309.2 362.5 312.7 363.6C316.2 364.7 319.9 365.8 324.0 365.5C328.1 365.2 333.5 362.8 337.3 361.7C341.1 360.6 344.2 360.9 346.7 358.9C349.2 356.9 350.7 352.6 352.4 349.5C354.1 346.4 354.9 342.8 357.1 340.0C359.3 337.2 362.6 334.6 365.6 332.6C368.6 330.6 372.2 329.5 375.0 327.9C377.8 326.3 380.8 325.2 382.6 323.2C384.4 321.2 384.9 318.2 386.0 316.0C387.1 313.8 388.1 310.2 389.2 310.0C390.3 309.8 391.4 313.3 392.5 315.0C393.6 316.7 394.1 318.8 395.9 320.3C397.7 321.8 400.9 322.8 403.4 324.1C405.9 325.4 408.8 328.7 411.0 327.9C413.2 327.1 414.7 321.9 416.6 319.4C418.5 316.9 420.4 313.4 422.3 312.8C424.2 312.2 426.1 315.3 428.0 315.6C429.9 315.9 432.1 314.1 433.7 314.7C435.3 315.3 436.2 317.3 437.5 319.0C438.8 320.7 439.3 321.5 441.2 325.0C443.1 328.5 446.8 336.7 448.8 340.0C450.9 343.3 451.9 343.1 453.5 345.0C455.1 346.9 456.8 348.0 458.2 351.3C459.6 354.6 460.7 360.2 462.0 364.6C463.3 369.0 464.5 374.9 465.8 377.8C467.1 380.7 467.8 380.4 470.0 382.0C472.2 383.6 475.7 386.1 479.0 387.3C482.3 388.6 486.7 388.8 490.0 389.5C493.3 390.2 494.3 391.0 498.9 391.6C503.5 392.2 512.8 393.3 517.8 393.1C522.8 392.9 524.7 390.5 529.1 390.6C533.5 390.7 539.9 393.3 544.3 393.5C548.7 393.7 551.5 391.3 555.6 391.6C559.7 391.9 565.3 395.2 568.8 395.4C572.3 395.5 573.5 392.8 576.4 392.5C579.2 392.2 582.8 394.2 585.9 393.9C589.0 393.6 592.1 390.6 595.3 390.6C598.4 390.6 601.6 393.7 604.8 393.9C607.9 394.1 610.7 391.4 614.2 391.6C617.7 391.9 621.2 395.1 625.6 395.4C630.0 395.7 636.0 394.3 640.7 393.5C645.4 392.7 650.1 390.3 653.9 390.6C657.7 390.9 660.4 394.8 663.4 395.4C666.4 396.0 669.2 394.7 672.0 394.5C674.8 394.3 677.7 394.0 680.0 394.1C682.3 394.2 683.5 395.6 685.7 395.1C687.9 394.6 690.7 392.6 693.2 391.3C695.7 390.0 698.6 388.9 700.8 387.5C703.0 386.1 704.9 385.0 706.5 382.8C708.1 380.6 709.1 378.6 710.2 374.3C711.3 370.1 712.2 363.9 713.1 357.3C714.0 350.7 715.0 341.5 715.9 334.6C716.8 327.7 717.8 323.1 718.8 315.7C719.8 308.3 720.9 299.3 722.0 290.0C723.1 280.7 724.3 270.0 725.5 260.0C726.7 250.0 728.1 238.4 729.2 230.0C730.3 221.6 731.0 213.5 732.0 209.4C733.0 205.3 733.3 205.8 734.9 205.6C736.5 205.4 739.5 208.7 741.5 208.4C743.5 208.1 745.5 208.9 747.1 203.7C748.7 198.5 749.8 186.4 750.9 177.3C752.0 168.2 752.8 156.8 753.8 148.9C754.8 141.0 755.8 136.3 756.6 130.0C757.4 123.7 758.0 116.8 758.7 111.1C759.4 105.4 760.2 99.5 761.0 96.0C761.8 92.5 762.9 89.9 763.7 89.9C764.5 89.9 765.3 92.5 766.0 96.0C766.7 99.5 767.4 105.6 768.1 111.1C768.8 116.5 769.4 123.0 770.0 128.7C770.6 134.3 771.3 139.8 772.0 145.0C772.7 150.2 773.5 151.7 774.3 160.0C775.1 168.3 776.0 184.5 777.0 195.0C778.0 205.5 779.4 223.0 780.6 223.0C781.8 223.0 783.1 205.5 784.0 195.0C784.9 184.5 785.4 170.0 786.2 160.0C787.0 150.0 787.9 141.7 789.0 135.0C790.1 128.3 791.7 120.0 793.0 120.0C794.3 120.0 795.7 128.3 797.0 135.0C798.3 141.7 799.7 152.7 801.0 160.0C802.3 167.3 803.6 178.7 804.9 178.7C806.2 178.7 807.6 166.4 809.0 160.0C810.4 153.6 811.5 145.8 813.0 140.0C814.5 134.2 816.5 129.7 818.0 125.0C819.5 120.3 820.6 115.1 822.0 112.0C823.4 108.9 824.9 104.0 826.1 106.2C827.3 108.4 827.9 116.0 829.0 125.0C830.1 134.0 831.8 149.0 833.0 160.0C834.2 171.0 834.6 182.4 836.1 191.2C837.6 200.0 840.0 214.0 841.7 213.0C843.4 212.0 844.9 193.8 846.1 185.0C847.4 176.2 848.5 170.8 849.2 160.0C849.9 149.2 850.1 131.4 850.5 120.0C850.9 108.6 851.3 95.1 851.7 91.8C852.1 88.5 852.5 96.8 853.0 100.0C853.5 103.2 854.1 104.4 854.8 111.1C855.5 117.8 856.1 131.8 857.0 140.0C857.9 148.2 858.8 161.7 860.0 160.0C861.2 158.3 862.6 140.2 864.0 130.0C865.4 119.8 867.0 101.2 868.5 98.7C870.0 96.2 872.0 112.3 872.8 115.0"/>
<path class="c" stroke="#ff3232" d="M94.5 287.0C95.4 287.8 98.2 289.8 100.0 292.0C101.8 294.2 103.2 297.9 105.0 300.0C106.8 302.1 109.2 304.8 110.8 304.3C112.4 303.8 113.2 299.5 114.5 297.0C115.8 294.5 117.2 291.4 118.4 289.1C119.7 286.8 120.8 284.6 122.0 283.0C123.2 281.4 124.6 280.2 125.9 279.7C127.2 279.2 128.5 278.6 130.0 280.0C131.5 281.4 133.2 284.3 135.0 288.0C136.8 291.7 139.5 297.9 141.0 302.4C142.5 306.9 143.1 311.4 144.0 315.0C144.9 318.6 145.7 323.3 146.7 324.1C147.7 324.9 148.7 321.9 150.0 320.0C151.3 318.1 153.0 314.7 154.5 313.0C156.0 311.3 157.5 309.4 159.0 309.6C160.5 309.8 162.1 312.1 163.5 314.0C164.9 315.9 165.9 317.0 167.5 321.3C169.1 325.6 171.4 335.7 173.2 340.0C174.9 344.3 176.2 345.0 178.0 347.0C179.8 349.0 182.0 351.5 184.0 352.0C186.0 352.5 188.0 349.3 190.0 350.0C192.0 350.7 193.8 353.7 196.0 356.0C198.2 358.3 200.3 362.3 203.0 364.0C205.7 365.7 208.8 365.9 212.0 366.0C215.2 366.1 218.7 364.2 222.0 364.5C225.3 364.8 228.2 367.8 232.0 368.0C235.8 368.2 241.0 365.8 245.0 366.0C249.0 366.2 251.8 369.0 256.0 369.5C260.2 370.0 264.3 368.8 270.0 369.0C275.7 369.2 277.2 369.8 290.0 370.5C302.8 371.2 331.6 372.7 346.7 373.5C361.8 374.3 368.1 374.8 380.7 375.5C393.3 376.2 410.6 376.8 422.3 377.5C434.0 378.2 441.1 378.8 450.7 380.0C460.3 381.2 472.0 383.9 480.0 385.0C488.0 386.1 491.0 386.3 498.9 386.9C506.8 387.5 516.3 388.3 527.3 388.8C538.3 389.3 556.0 390.0 565.1 389.7C574.2 389.4 577.7 386.8 582.1 386.9C586.5 387.0 588.4 390.6 591.5 390.6C594.6 390.6 596.9 387.2 601.0 386.9C605.1 386.6 611.1 388.2 616.1 388.8C621.1 389.4 625.5 390.6 631.2 390.6C636.9 390.6 644.1 389.7 650.1 388.8C656.1 387.9 662.1 385.4 667.1 385.0C672.1 384.6 676.6 387.1 680.0 386.6C683.4 386.1 685.2 383.3 687.6 381.8C690.0 380.3 692.3 377.4 694.2 377.7C696.1 378.0 697.5 382.4 698.9 383.7C700.3 385.0 701.1 385.9 702.7 385.6C704.3 385.3 706.8 384.0 708.4 381.8C710.0 379.6 711.0 376.5 712.1 372.4C713.2 368.3 714.0 363.0 715.0 357.3C716.0 351.6 716.9 344.7 717.8 338.4C718.7 332.1 719.8 325.0 720.6 319.5C721.4 314.0 721.7 309.7 722.6 305.6C723.5 301.6 724.9 295.0 726.0 295.2C727.1 295.4 728.4 303.1 729.5 307.0C730.6 310.9 731.5 322.0 732.5 318.6C733.5 315.2 734.6 301.5 735.8 286.7C737.0 271.9 738.3 245.1 739.6 230.0C740.9 214.9 742.1 208.1 743.4 196.2C744.6 184.3 745.9 167.8 747.1 158.4C748.4 149.0 749.6 144.0 750.9 139.5C752.2 135.0 753.7 130.7 755.0 131.2C756.3 131.7 757.2 137.8 758.7 142.4C760.2 147.0 762.2 160.7 763.7 158.6C765.2 156.5 766.6 138.4 767.5 130.0C768.4 121.6 768.4 115.8 769.3 108.0C770.2 100.2 771.6 82.6 772.7 83.1C773.9 83.6 775.2 101.3 776.2 111.2C777.2 121.1 777.9 134.7 778.7 142.4C779.5 150.1 780.2 159.5 781.2 157.4C782.2 155.3 783.5 136.6 784.9 130.0C786.2 123.5 787.6 117.8 789.3 118.1C791.0 118.4 793.3 133.0 794.9 131.8C796.5 130.7 797.6 117.8 798.6 111.2C799.6 104.6 800.1 97.5 801.1 92.4C802.1 87.3 803.4 80.0 804.6 80.6C805.9 81.2 807.3 92.2 808.6 96.2C809.9 100.2 810.7 103.0 812.4 104.9C814.1 106.8 817.4 106.4 818.6 107.4C819.9 108.5 819.3 107.4 819.9 111.2C820.5 115.0 821.4 124.2 822.4 130.0C823.4 135.8 824.6 141.2 826.1 146.2C827.6 151.2 829.4 157.4 831.1 159.9C832.8 162.4 834.6 161.9 836.1 161.1C837.6 160.3 838.5 158.1 840.0 155.0C841.5 151.9 843.1 148.5 844.8 142.4C846.5 136.3 848.7 115.8 850.4 118.7C852.1 121.6 853.4 148.1 854.8 160.0C856.1 171.9 857.1 190.0 858.5 190.0C859.9 190.0 861.6 169.2 862.9 160.0C864.1 150.8 864.8 143.3 866.0 135.0C867.2 126.7 868.8 116.2 870.0 110.0C871.2 103.8 872.9 100.0 873.5 98.0"/>
<path class="c" stroke="#ea005a" d="M94.5 248.5C95.3 248.5 98.2 243.6 99.5 248.5C100.8 253.4 101.4 269.2 102.3 277.8C103.2 286.4 104.0 294.0 105.0 300.0C106.0 306.0 107.0 313.7 108.0 313.7C109.0 313.7 109.9 306.0 111.0 300.0C112.1 294.0 113.2 285.9 114.6 277.8C116.0 269.7 118.0 257.1 119.3 251.3C120.5 245.5 121.2 242.7 122.1 242.8C123.0 242.9 123.7 247.7 124.5 252.0C125.3 256.3 126.0 262.9 126.9 268.4C127.8 273.9 129.0 282.6 130.0 285.0C131.0 287.4 132.0 285.2 133.0 283.0C134.0 280.8 135.0 274.8 136.0 272.0C137.0 269.2 137.9 266.3 138.8 266.5C139.7 266.7 140.5 269.5 141.5 273.0C142.5 276.5 143.5 280.8 144.8 287.3C146.1 293.8 147.8 304.9 149.5 311.8C151.2 318.7 153.4 327.4 155.2 328.8C157.0 330.2 158.6 319.4 160.3 320.3C162.0 321.2 164.1 330.9 165.6 334.5C167.1 338.1 167.9 339.4 169.5 342.0C171.1 344.6 172.9 348.3 175.0 350.0C177.1 351.7 179.8 350.7 182.0 352.0C184.2 353.3 186.0 358.0 188.0 358.0C190.0 358.0 191.9 353.4 194.0 352.0C196.1 350.6 198.5 348.5 200.5 349.5C202.5 350.5 204.2 355.2 206.0 358.0C207.8 360.8 208.7 364.8 211.0 366.5C213.3 368.2 216.5 367.4 220.0 368.0C223.5 368.6 227.8 369.8 232.0 370.0C236.2 370.2 240.7 368.8 245.0 369.0C249.3 369.2 253.0 371.1 258.0 371.5C263.0 371.9 269.7 371.4 275.0 371.5C280.3 371.6 278.1 371.5 290.0 372.0C301.9 372.5 331.6 373.8 346.7 374.5C361.8 375.2 368.1 375.8 380.7 376.5C393.3 377.2 410.6 377.8 422.3 378.5C434.0 379.2 441.1 380.2 450.7 380.6C460.3 381.1 471.0 381.3 480.0 381.2C489.0 381.1 496.7 379.7 504.6 380.2C512.5 380.7 518.8 383.2 527.3 384.0C535.8 384.8 549.3 385.0 555.6 385.0C561.9 385.0 561.3 384.9 565.1 384.0C568.9 383.1 573.6 380.9 578.3 379.3C583.0 377.7 589.3 375.1 593.4 374.6C597.5 374.1 598.2 375.8 602.9 376.1C607.6 376.4 616.1 376.0 621.8 376.5C627.5 377.0 632.2 379.5 636.9 379.3C641.6 379.1 644.8 377.1 650.1 375.5C655.5 373.9 664.0 371.1 669.0 369.8C674.0 368.5 676.9 368.5 680.0 367.5C683.1 366.5 684.8 365.1 687.6 363.9C690.4 362.7 694.2 361.7 697.0 360.1C699.8 358.5 701.5 355.8 704.6 354.4C707.8 353.0 713.1 352.9 715.9 351.6C718.7 350.4 719.7 349.1 721.6 346.9C723.5 344.7 725.5 341.5 727.3 338.4C729.1 335.2 730.7 332.8 732.4 328.0C734.1 323.2 736.2 314.1 737.7 309.4C739.2 304.7 740.3 302.2 741.5 299.9C742.7 297.6 743.8 297.2 745.0 295.6C746.2 294.0 747.8 293.0 748.7 290.0C749.6 287.0 750.0 284.8 750.6 277.5C751.2 270.2 751.7 256.6 752.5 246.2C753.3 235.8 754.6 224.2 755.6 215.0C756.6 205.8 757.6 197.9 758.7 191.2C759.9 184.5 761.2 178.4 762.5 175.0C763.8 171.6 764.3 171.2 766.2 170.6C768.1 170.0 771.4 171.5 773.7 171.2C776.0 170.9 778.5 170.5 779.9 169.0C781.3 167.5 781.6 165.4 782.4 162.0C783.2 158.6 783.7 152.6 784.5 148.7C785.3 144.8 786.5 137.7 787.4 138.7C788.3 139.7 789.2 148.8 789.9 154.9C790.6 161.0 791.0 167.9 791.5 175.0C792.0 182.1 792.3 187.7 793.0 197.4C793.7 207.1 794.7 233.0 795.5 233.0C796.3 233.0 797.3 209.6 798.0 197.4C798.7 185.2 799.3 171.2 799.9 160.0C800.5 148.8 801.0 137.5 801.8 130.0C802.6 122.5 803.5 114.0 804.9 115.0C806.2 116.0 808.2 129.5 809.9 136.2C811.6 142.8 813.4 147.8 814.9 154.9C816.4 162.0 817.5 172.9 818.6 178.7C819.7 184.5 820.5 188.8 821.7 189.9C823.0 191.0 824.9 187.9 826.1 185.0C827.4 182.1 828.4 176.7 829.2 172.5C830.0 168.3 830.5 167.1 831.0 160.0C831.5 152.9 831.3 138.7 832.3 130.0C833.2 121.3 835.2 107.1 836.7 108.1C838.2 109.1 839.8 128.4 841.1 136.2C842.5 144.0 843.5 149.7 844.8 154.9C846.0 160.1 847.4 168.4 848.6 167.4C849.9 166.4 851.1 157.0 852.3 148.7C853.5 140.4 855.0 125.3 856.0 117.5C857.0 109.7 857.5 100.8 858.5 101.8C859.5 102.8 861.2 115.7 862.3 123.7C863.3 131.7 863.9 140.0 864.8 150.0C865.7 160.0 866.9 179.5 867.9 183.7C868.9 187.9 870.1 177.6 871.0 175.0C871.9 172.4 873.1 169.2 873.5 168.0"/>
<path class="c" stroke="#b00042" d="M94.5 278.0C94.9 279.2 95.9 280.9 97.0 285.0C98.1 289.1 99.8 295.7 101.3 302.4C102.8 309.1 104.7 318.7 106.0 325.0C107.3 331.3 107.9 335.5 108.9 340.0C109.9 344.5 110.9 348.9 112.0 352.0C113.1 355.1 114.3 358.9 115.5 358.9C116.7 358.9 117.9 355.1 119.0 352.0C120.1 348.9 121.0 343.0 122.1 340.0C123.2 337.0 124.4 335.1 125.5 334.0C126.6 332.9 127.8 333.3 128.8 333.6C129.8 333.9 130.7 334.9 131.5 336.0C132.3 337.1 132.1 334.6 133.5 340.0C134.9 345.4 138.5 361.1 140.1 368.4C141.7 375.7 142.1 380.2 143.0 384.0C143.9 387.8 144.8 390.7 145.8 391.0C146.8 391.3 147.9 388.2 149.0 386.0C150.1 383.8 151.1 382.0 152.4 377.8C153.8 373.6 155.5 364.4 157.1 360.8C158.7 357.2 160.4 356.3 161.8 356.1C163.2 355.9 164.2 358.4 165.5 359.5C166.8 360.6 168.0 362.4 169.4 362.7C170.8 362.9 172.4 361.6 174.0 361.0C175.6 360.4 176.7 359.6 178.8 358.9C180.9 358.2 184.4 356.8 186.4 357.0C188.4 357.2 189.4 358.7 191.0 360.0C192.6 361.3 193.8 362.9 195.9 364.6C198.0 366.3 200.6 369.6 203.4 370.2C206.2 370.8 209.8 368.3 212.9 368.4C216.0 368.4 218.3 369.9 222.0 370.5C225.7 371.1 230.3 371.6 235.0 372.0C239.7 372.4 245.0 372.5 250.0 373.0C255.0 373.5 258.3 373.9 265.0 375.0C271.7 376.1 276.4 378.7 290.0 379.3C303.6 379.9 331.6 379.4 346.7 378.8C361.8 378.2 368.1 377.1 380.7 376.0C393.3 374.9 410.6 373.3 422.3 372.5C434.0 371.7 439.4 371.3 450.7 371.0C462.0 370.7 478.7 370.8 490.0 370.5C501.3 370.2 508.9 370.1 518.4 369.5C527.9 368.9 539.0 367.6 546.7 367.0C554.4 366.4 560.0 366.9 564.7 366.2C569.4 365.5 571.8 364.1 575.1 362.8C578.4 361.5 581.7 359.8 584.5 358.1C587.3 356.4 589.6 353.8 592.1 352.4C594.6 351.0 597.1 349.9 599.6 349.5C602.1 349.1 604.7 350.4 607.2 350.1C609.7 349.8 612.3 347.3 614.8 347.7C617.3 348.1 619.5 351.1 622.3 352.4C625.1 353.6 628.6 354.6 631.8 355.2C634.9 355.8 637.4 356.7 641.2 356.2C645.0 355.7 649.8 353.3 654.5 352.4C659.2 351.4 665.4 351.0 669.6 350.5C673.9 350.0 676.7 350.3 680.0 349.5C683.3 348.7 685.7 346.6 689.5 345.9C693.3 345.2 698.6 346.0 702.7 345.5C706.8 345.0 711.2 344.1 714.0 343.1C716.8 342.1 717.8 340.6 719.7 339.3C721.6 338.0 723.2 336.1 725.4 335.5C727.6 334.9 730.4 336.1 732.9 335.5C735.4 334.9 737.7 332.8 740.5 331.7C743.3 330.6 747.2 330.1 749.9 328.9C752.6 327.7 754.3 327.0 756.6 324.5C758.9 322.0 761.3 317.0 763.7 313.7C766.1 310.4 768.7 308.0 771.2 304.9C773.7 301.8 776.4 298.7 778.7 295.0C781.0 291.3 782.6 287.5 784.9 282.5C787.2 277.5 790.3 270.9 792.4 264.9C794.5 258.8 795.9 252.4 797.4 246.2C798.9 240.0 800.1 233.5 801.1 227.5C802.1 221.5 802.6 215.4 803.6 210.0C804.6 204.6 805.9 198.8 807.4 194.9C808.9 191.0 811.0 187.6 812.4 186.8C813.8 186.0 814.9 188.7 816.0 190.0C817.1 191.3 817.5 195.1 819.2 194.9C820.9 194.7 824.3 192.4 826.1 188.7C827.9 185.0 828.8 177.6 829.8 172.5C830.8 167.4 831.1 162.8 832.3 158.0C833.4 153.2 835.5 143.8 836.7 143.7C838.0 143.6 838.6 154.0 839.8 157.4C840.9 160.8 842.1 164.3 843.6 164.3C845.1 164.3 846.7 159.2 848.6 157.4C850.5 155.6 852.7 155.6 854.8 153.7C856.9 151.8 859.2 148.0 861.0 146.2C862.8 144.4 864.1 141.6 865.4 143.1C866.6 144.6 867.6 150.8 868.5 154.9C869.4 159.0 870.2 162.4 871.0 167.4C871.8 172.4 873.1 182.1 873.5 185.0"/>
<path class="c" stroke="#7a00ff" d="M94.7 392.9C95.2 391.4 96.4 386.7 97.5 384.0C98.6 381.3 99.7 377.8 101.3 376.9C102.9 376.0 105.0 377.1 107.0 378.8C109.0 380.5 111.9 386.8 113.6 387.3C115.3 387.8 115.9 384.5 117.0 382.0C118.1 379.5 119.0 377.2 120.2 372.1C121.4 367.0 123.2 359.2 124.0 351.3C124.8 343.4 124.8 334.2 125.2 325.0C125.6 315.8 125.8 303.5 126.2 296.0C126.6 288.5 127.0 284.8 127.4 279.9C127.8 275.0 128.3 269.5 128.8 266.5C129.3 263.5 129.7 261.8 130.2 261.8C130.7 261.8 131.1 263.5 131.6 266.5C132.1 269.5 132.5 275.0 133.0 279.9C133.5 284.8 134.1 289.0 134.6 296.0C135.1 303.0 135.4 315.0 135.8 322.0C136.2 329.0 136.3 334.1 136.8 338.0C137.3 341.9 138.2 343.7 139.0 345.5C139.8 347.3 140.5 348.1 141.5 349.0C142.5 349.9 143.7 351.7 144.9 351.0C146.1 350.3 147.3 347.1 148.5 345.0C149.7 342.9 151.1 337.3 152.3 338.5C153.5 339.7 154.5 347.0 155.5 352.0C156.5 357.0 156.9 363.6 158.1 368.4C159.3 373.2 160.9 380.6 162.8 380.6C164.7 380.6 167.4 370.9 169.4 368.4C171.4 365.9 172.6 364.6 175.1 365.5C177.6 366.4 181.7 371.9 184.5 374.0C187.3 376.1 188.9 377.6 192.1 377.8C195.2 378.0 198.4 376.1 203.4 375.0C208.4 373.9 216.0 371.1 222.3 371.2C228.6 371.3 235.5 375.4 241.2 375.9C246.9 376.4 251.3 373.8 256.4 374.0C261.4 374.2 265.9 376.2 271.5 376.9C277.1 377.6 277.5 378.2 290.0 378.4C302.5 378.5 331.6 378.2 346.7 377.8C361.8 377.4 368.1 376.7 380.7 375.9C393.3 375.1 404.1 373.9 422.3 373.1C440.5 372.3 474.0 371.5 490.0 371.0C506.0 370.5 508.9 370.7 518.4 370.3C527.9 369.9 539.0 369.0 546.7 368.4C554.4 367.8 558.4 367.5 564.7 366.6C571.0 365.7 576.1 363.4 584.5 362.8C592.9 362.2 607.9 363.3 614.8 362.8C621.7 362.3 621.7 360.6 626.1 359.9C630.5 359.2 635.5 359.0 641.2 358.4C646.9 357.8 653.8 357.0 660.1 356.2C666.4 355.4 672.5 354.7 679.0 353.8C685.5 352.9 692.4 351.4 698.9 350.6C705.4 349.8 712.1 349.3 717.8 348.8C723.5 348.3 728.5 348.8 732.9 347.8C737.3 346.9 740.3 344.7 744.3 343.1C748.2 341.5 752.3 340.1 756.6 338.4C760.9 336.7 766.1 334.5 770.0 333.0C773.9 331.5 777.0 329.8 779.9 329.6C782.8 329.4 784.9 332.8 787.4 331.8C789.9 330.8 792.3 326.8 794.9 323.7C797.5 320.6 801.0 313.8 803.0 313.0C805.0 312.2 805.4 316.8 806.8 318.7C808.1 320.6 810.0 327.2 811.1 324.3C812.2 321.4 812.9 310.2 813.6 301.2C814.3 292.1 814.9 279.2 815.5 270.0C816.1 260.8 816.8 254.3 817.4 246.2C818.0 238.1 818.7 226.3 819.2 221.2C819.7 216.1 819.8 215.2 820.5 215.6C821.2 216.0 822.5 220.7 823.6 223.7C824.7 226.7 825.8 230.4 827.3 233.7C828.8 237.0 830.8 240.4 832.3 243.7C833.8 247.0 835.0 249.5 836.1 253.7C837.2 257.9 838.2 262.2 839.2 268.6C840.2 275.0 841.2 290.7 842.1 291.8C843.0 292.9 844.0 281.6 844.8 275.0C845.6 268.4 846.1 260.3 846.7 252.4C847.3 244.5 847.8 239.8 848.6 227.5C849.4 215.2 850.8 189.9 851.7 178.7C852.6 167.4 853.3 165.0 854.2 160.0C855.1 155.0 856.2 154.8 857.3 148.7C858.4 142.6 860.0 131.0 861.0 123.7C862.0 116.4 862.2 111.0 863.5 105.0C864.8 99.0 866.9 91.4 868.5 87.4C870.1 83.4 872.2 82.2 872.9 81.2"/>
</g>
<path d="M380.0 15.2V437.7" stroke="#000" stroke-width="1.8" stroke-dasharray="3.9 1.8" fill="none"/>
<path d="M563.7 15.2V437.7" stroke="#000" stroke-width="1.8" stroke-dasharray="3.9 1.8" fill="none"/>
<path d="M756.5 15.2V437.7" stroke="#000" stroke-width="1.8" stroke-dasharray="3.9 1.8" fill="none"/>
<rect x="94.50" y="14.20" width="778.25" height="423.50" fill="none" stroke="#000" stroke-width="2.2"/>
<text class="an" text-anchor="end" x="376.8" y="38.8">Rear</text><text class="an" text-anchor="end" x="376.8" y="65.6">blade</text>
<text class="an" text-anchor="end" x="560.3" y="38.8">Propeller</text><text class="an" text-anchor="end" x="560.3" y="65.6">axis</text>
<text class="an" text-anchor="end" x="752.9" y="38.8">Front</text><text class="an" text-anchor="end" x="752.9" y="65.6">blade</text>
<text class="tk" text-anchor="middle" x="94.5" y="476.4">550</text>
<text class="tk" text-anchor="middle" x="165.2" y="476.4">600</text>
<text class="tk" text-anchor="middle" x="236.0" y="476.4">650</text>
<text class="tk" text-anchor="middle" x="306.8" y="476.4">700</text>
<text class="tk" text-anchor="middle" x="377.5" y="476.4">750</text>
<text class="tk" text-anchor="middle" x="448.2" y="476.4">800</text>
<text class="tk" text-anchor="middle" x="519.0" y="476.4">850</text>
<text class="tk" text-anchor="middle" x="589.8" y="476.4">900</text>
<text class="tk" text-anchor="middle" x="660.5" y="476.4">950</text>
<text class="tk" text-anchor="middle" x="731.2" y="476.4">1000</text>
<text class="tk" text-anchor="middle" x="802.0" y="476.4">1050</text>
<text class="tk" text-anchor="middle" x="872.8" y="476.4">1100</text>
<text class="tk" text-anchor="end" x="71.5" y="21.6">10</text>
<text class="tk" text-anchor="end" x="71.5" y="92.2">5</text>
<text class="tk" text-anchor="end" x="71.5" y="162.8">0</text>
<text class="tk" text-anchor="end" x="71.5" y="233.3">-5</text>
<text class="tk" text-anchor="end" x="71.5" y="303.9">-10</text>
<text class="tk" text-anchor="end" x="71.5" y="374.5">-15</text>
<text class="tk" text-anchor="end" x="71.5" y="445.1">-20</text>
<text class="ti" text-anchor="middle" x="496.5" y="517.2"><tspan font-style="italic">x</tspan>-coordinate (mm)</text>
<text class="ti" text-anchor="middle" transform="translate(25.4 224.4) rotate(-90)" style="font-size:24px;letter-spacing:0.45px">Velocity (m/s)</text>
<path d="M895 53.5H933" stroke="#0080a0" stroke-width="3.7" stroke-linecap="round" fill="none"/><text class="lg" x="939" y="60.8"><tspan font-style="italic">y</tspan> = 20 mm</text>
<path d="M895 94.4H933" stroke="#00c8ff" stroke-width="3.7" stroke-linecap="round" fill="none"/><text class="lg" x="939" y="101.7"><tspan font-style="italic">y</tspan> = 60 mm</text>
<path d="M895 135.3H933" stroke="#00ffff" stroke-width="3.7" stroke-linecap="round" fill="none"/><text class="lg" x="939" y="142.6"><tspan font-style="italic">y</tspan> = 100 mm</text>
<path d="M895 176.2H933" stroke="#00d878" stroke-width="3.7" stroke-linecap="round" fill="none"/><text class="lg" x="939" y="183.5"><tspan font-style="italic">y</tspan> = 140 mm</text>
<path d="M895 217.1H933" stroke="#f8ee00" stroke-width="3.7" stroke-linecap="round" fill="none"/><text class="lg" x="939" y="224.4"><tspan font-style="italic">y</tspan> = 180 mm</text>
<path d="M895 258.0H933" stroke="#ff9200" stroke-width="3.7" stroke-linecap="round" fill="none"/><text class="lg" x="939" y="265.3"><tspan font-style="italic">y</tspan> = 220 mm</text>
<path d="M895 298.9H933" stroke="#ff3232" stroke-width="3.7" stroke-linecap="round" fill="none"/><text class="lg" x="939" y="306.2"><tspan font-style="italic">y</tspan> = 260 mm</text>
<path d="M895 339.8H933" stroke="#ea005a" stroke-width="3.7" stroke-linecap="round" fill="none"/><text class="lg" x="939" y="347.1"><tspan font-style="italic">y</tspan> = 300 mm</text>
<path d="M895 380.7H933" stroke="#b00042" stroke-width="3.7" stroke-linecap="round" fill="none"/><text class="lg" x="939" y="388.0"><tspan font-style="italic">y</tspan> = 380 mm</text>
<path d="M895 421.6H933" stroke="#7a00ff" stroke-width="3.7" stroke-linecap="round" fill="none"/><text class="lg" x="939" y="428.9"><tspan font-style="italic">y</tspan> = 460 mm</text>
</svg></body></html>
